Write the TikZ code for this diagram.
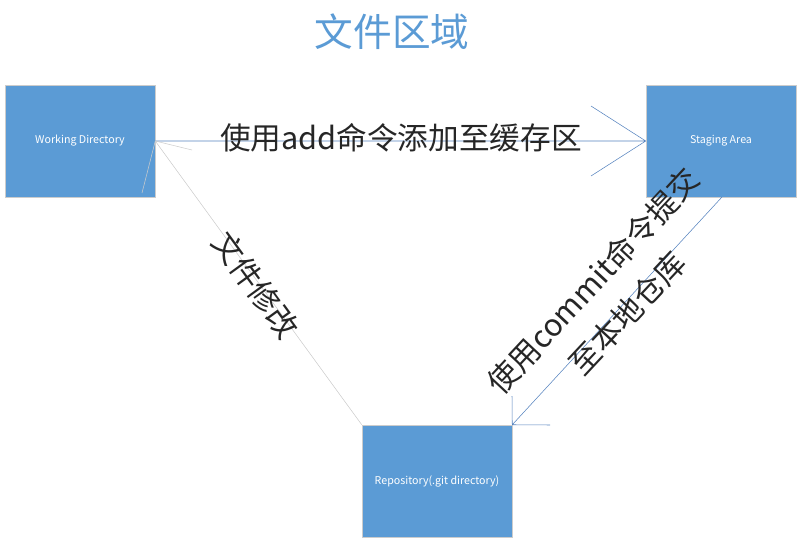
\documentclass[tikz,border=0pt]{standalone}
\usepackage{fontspec}
\newfontfamily\cjk{Noto Sans CJK SC}
\begin{document}
\begin{tikzpicture}[x=0.75pt,y=-0.75pt,
  box/.style={draw=white!80!black,inner sep=0,minimum width=112.5pt,minimum height=84pt,font=\cjk\fontsize{8}{10}\selectfont,text=white},
  lbl/.style={font=\cjk\fontsize{23}{28}\selectfont,text=black!85,align=center}]
\definecolor{bx}{RGB}{91,155,213}
\definecolor{ln}{RGB}{84,130,190}
\useasboundingbox (0,0) rectangle (803,546);
\node[box,fill=bx] (wd) at (80,141) {Working Directory};
\node[box,fill=bx] (sa) at (721,141) {Staging Area};
\node[box,fill=bx] (rp) at (437,481) {Repository(.git directory)};
\node[font=\cjk\fontsize{29}{34}\selectfont,text=bx] (t) at (392,32) {文件区域};
\coordinate (a1) at (591,106); \coordinate (a2) at (591,176);
\draw[ln,thin] (wd.east) -- (sa.west) (a1) -- (sa.west) -- (a2);
\coordinate (b1) at (512,396); \coordinate (b2) at (550,425);
\draw[ln,thin] (722,197) coordinate (sb) -- (rp.north east) (b1) -- (rp.north east) -- (b2);
\coordinate (c1) at (142,193); \coordinate (c2) at (192,150);
\draw[black!20,thin] (rp.north west) -- (wd.east) (c1) -- (wd.east) -- (c2);
\node[lbl] (l1) at (401,138) {使用add命令添加至缓存区};
\node[lbl,rotate=47,font=\cjk\fontsize{23}{35}\selectfont] (l2) at (610,297) {使用commit命令提交\\至本地仓库};
\node[lbl,rotate=-54] (l3) at (256,285) {文件修改};
\end{tikzpicture}
\end{document}
